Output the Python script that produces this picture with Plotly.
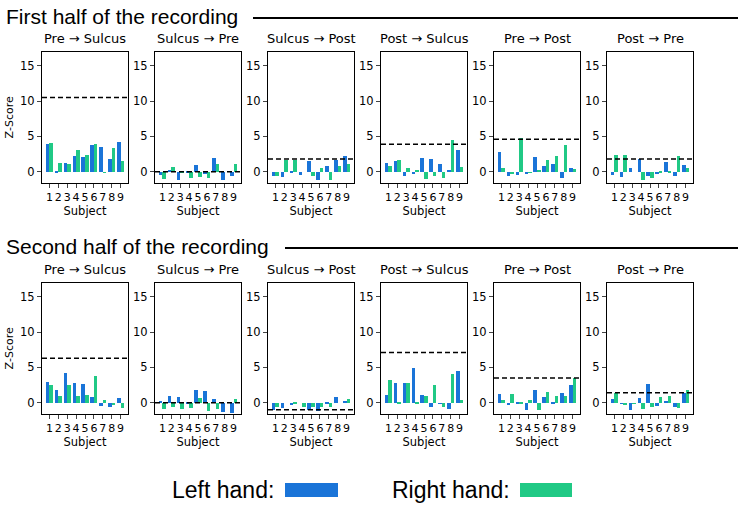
import plotly.graph_objects as go

subjects = [1, 2, 3, 4, 5, 6, 7, 8, 9]
panel_titles = ["Pre \u2192 Sulcus", "Sulcus \u2192 Pre", "Sulcus \u2192 Post",
                "Post \u2192 Sulcus", "Pre \u2192 Post", "Post \u2192 Pre"]
section_titles = ["First half of the recording", "Second half of the recording"]
y_ticks = [0, 5, 10, 15]

# First half of the recording
first_left = [
    [4.0, 0.2, 1.3, 2.3, 2.1, 3.8, 3.5, 1.9, 4.3],
    [-0.4, 0.3, -1.1, 0.1, 1.0, -0.2, 2.0, -1.2, -0.5],
    [-0.6, -0.7, 0.05, -0.4, 1.6, -1.2, 0.9, 1.7, 2.3],
    [1.3, 1.5, -0.6, -0.3, 2.0, 1.9, 1.1, 0.3, 3.1],
    [2.8, -0.5, -0.4, -0.3, 2.1, 0.8, 1.2, -0.8, 0.6],
    [-0.4, -0.7, 0.6, 1.8, -0.6, -0.2, 1.4, -0.5, 1.0],
]
first_right = [
    [4.1, 1.3, 1.1, 3.1, 2.4, 3.9, -0.1, 3.4, 1.6],
    [-1.0, 0.7, 0.2, -0.9, -0.7, -0.8, 1.2, 0.0, 1.1],
    [-0.6, 1.7, 1.7, 0.0, -0.5, 0.5, -1.2, 0.9, 1.1],
    [0.8, 1.7, 0.6, 0.3, -1.0, -0.5, -0.9, 4.6, 0.7],
    [0.6, -0.3, 4.8, -0.1, 0.3, 1.7, 2.3, 3.8, 0.4],
    [2.4, 2.4, 0.0, -1.2, -0.8, 0.1, 0.2, 2.3, 0.5],
]
first_thr = [10.5, 0.0, 1.8, 3.9, 4.6, 1.8]

# Second half of the recording
second_left = [
    [3.0, 1.9, 4.2, 2.9, 2.7, 0.8, -0.4, -0.6, 0.7],
    [0.3, 1.0, 0.9, 0.1, 1.8, 1.7, 0.5, -1.3, -1.4],
    [-1.0, -0.7, -0.2, 0.0, -1.0, -1.1, 0.2, 0.9, 0.3],
    [1.2, 2.9, 2.9, 5.0, 1.1, -0.5, -0.1, -0.8, 4.6],
    [1.3, -0.3, 0.1, -1.0, 1.8, 0.8, 0.1, 1.4, 2.5],
    [0.5, -0.1, -1.0, 0.7, 2.7, -0.4, 0.3, -0.6, 1.4],
]
second_right = [
    [2.6, 1.0, 2.5, 1.0, 1.1, 3.8, 0.4, -0.3, -0.7],
    [-0.9, -0.5, -0.8, -0.7, 0.7, -1.1, -0.8, 0.0, 0.5],
    [-0.5, 0.0, 0.1, -0.5, -0.5, -0.6, -0.5, 0.0, 0.5],
    [3.3, 0.2, 2.9, 0.1, 1.0, 2.5, -0.6, 4.1, 0.4],
    [0.4, 1.3, 0.1, 0.4, -1.0, 1.5, 1.0, 1.0, 3.6],
    [1.4, -0.2, -0.1, -0.8, -0.6, 0.8, 1.0, -0.7, 1.8],
]
second_thr = [6.3, 0.0, -1.0, 7.1, 3.5, 1.4]

BLUE = "#1a74d8"
GREEN = "#20c985"
W, H = 743, 507
FONT = "DejaVu Sans"
HFONT = "Liberation Sans"

def px(x):
    return x / W

def py(y):
    return 1 - y / H

fig = go.Figure()
layout = {}
shapes = []
annotations = []

rows = [(first_left, first_right, first_thr, 51.7, 183.0),
        (second_left, second_right, second_thr, 282.7, 414.0)]

for r, (L, R, T, top, bot) in enumerate(rows):
    for c in range(6):
        idx = r * 6 + c + 1
        sfx = "" if idx == 1 else str(idx)
        left = 42 + 113 * c
        right = left + 86
        fig.add_trace(go.Bar(x=subjects, y=L[c], width=0.4, offset=-0.4,
                             marker=dict(color=BLUE, line=dict(width=0)),
                             xaxis="x" + sfx, yaxis="y" + sfx, showlegend=False))
        fig.add_trace(go.Bar(x=subjects, y=R[c], width=0.4, offset=0.0,
                             marker=dict(color=GREEN, line=dict(width=0)),
                             xaxis="x" + sfx, yaxis="y" + sfx, showlegend=False))
        layout["xaxis" + sfx] = dict(
            domain=[px(left), px(right)], anchor="y" + sfx, range=[0.16, 9.84],
            tickvals=subjects, ticktext=[str(s) for s in subjects], tickangle=0,
            ticks="outside", ticklen=4, tickwidth=1,
            tickfont=dict(family=FONT, size=11, color="black"),
            showline=True, mirror=True, linecolor="black", linewidth=1,
            showgrid=False, zeroline=False, fixedrange=True,
            title=dict(text="Subject", font=dict(family=FONT, size=11.5, color="black"),
                       standoff=1))
        layout["yaxis" + sfx] = dict(
            domain=[py(bot), py(top)], anchor="x" + sfx, range=[-1.6, 17.0],
            tickvals=y_ticks, ticks="outside", ticklen=4, tickwidth=1,
            tickfont=dict(family=FONT, size=11.5, color="black"),
            showline=True, mirror=True, linecolor="black", linewidth=1,
            showgrid=False, zeroline=False, fixedrange=True,
            title=dict(text="Z-Score" if c == 0 else "",
                       font=dict(family=FONT, size=11, color="black"), standoff=4))
        shapes.append(dict(type="line", xref="x" + sfx + " domain", x0=0, x1=1,
                           yref="y" + sfx, y0=T[c], y1=T[c],
                           line=dict(color="black", width=1.5, dash="5px,3px")))
        annotations.append(dict(text=panel_titles[c], x=px((left + right) / 2), y=py(top - 4),
                                xref="paper", yref="paper", xanchor="center", yanchor="bottom",
                                showarrow=False, font=dict(family=FONT, size=13, color="black")))

# section headings with rules
for i, (ty, line_x0) in enumerate([(16, 253), (246, 285)]):
    annotations.append(dict(text=section_titles[i], x=px(4), y=py(ty), xref="paper", yref="paper",
                            xanchor="left", yanchor="middle", showarrow=False,
                            font=dict(family=HFONT, size=21, color="black")))
    shapes.append(dict(type="line", xref="paper", yref="paper", x0=px(line_x0), x1=px(738),
                       y0=py(ty + 2), y1=py(ty + 2), line=dict(color="black", width=2)))

# legend
legend_items = [("Left hand:", BLUE, 170, 285, 338), ("Right hand:", GREEN, 390, 520, 572)]
for text, col, tx, r0, r1 in legend_items:
    annotations.append(dict(text=text, x=px(tx), y=py(490), xref="paper", yref="paper",
                            xanchor="left", yanchor="middle", showarrow=False,
                            font=dict(family=HFONT, size=23, color="black")))
    shapes.append(dict(type="rect", xref="paper", yref="paper", x0=px(r0), x1=px(r1),
                       y0=py(497), y1=py(483), fillcolor=col, line=dict(width=0)))

fig.update_layout(width=W, height=H, margin=dict(l=0, r=0, t=0, b=0),
                  paper_bgcolor="white", plot_bgcolor="white",
                  shapes=shapes, annotations=annotations, showlegend=False,
                  bargap=0, **layout)

fig.write_html("out.html")
